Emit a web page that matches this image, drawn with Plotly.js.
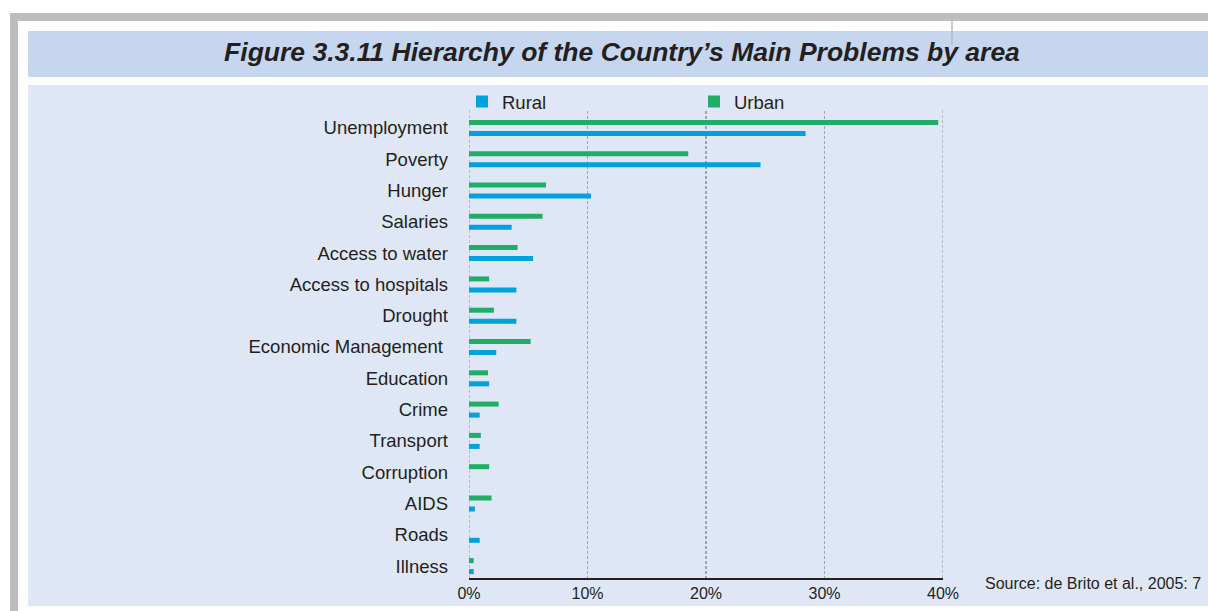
<!DOCTYPE html>
<html>
<head>
<meta charset="utf-8">
<script src="https://cdn.plot.ly/plotly-3.0.1.min.js"></script>
<style>html,body{margin:0;padding:0;background:#fff;}#chart{width:1208px;height:611px;}</style>
</head>
<body>
<div id="chart"></div>
<script>
const categories = ["Unemployment","Poverty","Hunger","Salaries","Access to water","Access to hospitals","Drought","Economic Management ","Education","Crime","Transport","Corruption","AIDS","Roads","Illness"];
const rural = [28.4, 24.6, 10.3, 3.6, 5.4, 4.0, 4.0, 2.3, 1.7, 0.9, 0.9, 0, 0.5, 0.9, 0.4];
const urban = [39.6, 18.5, 6.5, 6.2, 4.1, 1.7, 2.1, 5.2, 1.6, 2.5, 1.0, 1.7, 1.9, 0, 0.4];
const xTicks = [0, 10, 20, 30, 40];
const xTickText = ["0%", "10%", "20%", "30%", "40%"];
const titleText = "Figure 3.3.11 Hierarchy of the Country\u2019s Main Problems by area";
const sourceText = "Source: de Brito et al., 2005: 7";

const W = 1208, H = 611;
const L = 469, R = 943, T = 111, B = 578;
const px = x => (x - L) / (R - L);
const py = y => (B - y) / (B - T);
const cx = x => x / W;
const cy = y => 1 - y / H;
const FONT = "Liberation Sans, Arial, Helvetica, sans-serif";
const TXT = "#231f20";
const GRID = "#a3a5a8";
const GRIDDASH = "3px,2px";

function rect(x0, y0, x1, y1, color) {
  return {type: "rect", xref: "paper", yref: "paper", x0: px(x0), x1: px(x1), y0: py(y1), y1: py(y0),
          fillcolor: color, line: {width: 0}, layer: "below"};
}
// dashed grid lines at the two range ends (plotly omits grid lines on the plot edges)
function edgeGrid(v) {
  return {type: "line", xref: "x", yref: "paper", x0: v, x1: v, y0: 0, y1: py(108),
          line: {color: GRID, width: 1.3, dash: GRIDDASH}, layer: "below"};
}

const traces = [
  {type: "bar", orientation: "h", name: "Rural", y: categories, x: rural,
   marker: {color: "#00a1de", line: {width: 0}}, width: 0.16, offset: 0.096, hoverinfo: "x+y"},
  {type: "bar", orientation: "h", name: "Urban", y: categories, x: urban,
   marker: {color: "#21ac67", line: {width: 0}}, width: 0.16, offset: -0.256, hoverinfo: "x+y"}
];

const layout = {
  width: W, height: H,
  paper_bgcolor: "#ffffff",
  plot_bgcolor: "rgba(0,0,0,0)",
  font: {family: FONT, color: TXT},
  margin: {l: L, r: W - R, t: T, b: H - B, pad: 0, autoexpand: false},
  barmode: "overlay",
  showlegend: true,
  title: {text: titleText, x: cx(622), y: cy(52), xref: "container", yref: "container", xanchor: "center", yanchor: "middle",
          automargin: false,
          font: {family: FONT, size: 26.5, weight: "bold", style: "italic", color: TXT}},
  legend: {orientation: "h", xref: "container", yref: "container", x: cx(462), y: cy(83), xanchor: "left", yanchor: "top",
           bgcolor: "rgba(0,0,0,0)", font: {family: FONT, size: 18.5, color: TXT},
           entrywidth: 187, entrywidthmode: "pixels", traceorder: "normal", itemclick: false, itemdoubleclick: false},
  xaxis: {range: [xTicks[0], xTicks[xTicks.length - 1]], tickvals: xTicks, ticktext: xTickText, showgrid: true,
          gridcolor: GRID, griddash: GRIDDASH, gridwidth: 1.3, zeroline: false, showline: true,
          linecolor: "#231f20", linewidth: 2, ticks: "",
          tickfont: {family: FONT, size: 16, color: TXT}, fixedrange: true},
  yaxis: {type: "category", categoryorder: "array", categoryarray: categories, range: [14.38, -0.54],
          showgrid: false, zeroline: false, showline: false, ticks: "", ticklabelstandoff: 20,
          tickfont: {family: FONT, size: 18.5, color: TXT}, fixedrange: true},
  shapes: [
    rect(10, 13, 1208, 21, "#bcbdc1"),
    rect(10, 13, 18, 611, "#bcbdc1"),
    rect(28, 31, 1208, 77, "#c5d6ee"),
    rect(28, 85, 1208, 606, "#dfe7f6"),
    edgeGrid(xTicks[0]),
    edgeGrid(xTicks[xTicks.length - 1]),
    {type: "line", xref: "paper", yref: "paper", x0: px(952), x1: px(952), y0: py(21), y1: py(45),
     line: {color: "#b9bcc1", width: 1.5}, layer: "above"}
  ],
  annotations: [
    {text: sourceText, xref: "paper", yref: "paper", x: px(983), y: py(583), xanchor: "left", yanchor: "middle",
     showarrow: false, font: {family: FONT, size: 16, color: TXT}}
  ]
};

Plotly.newPlot("chart", traces, layout, {displayModeBar: false, staticPlot: true});
</script>
</body>
</html>
